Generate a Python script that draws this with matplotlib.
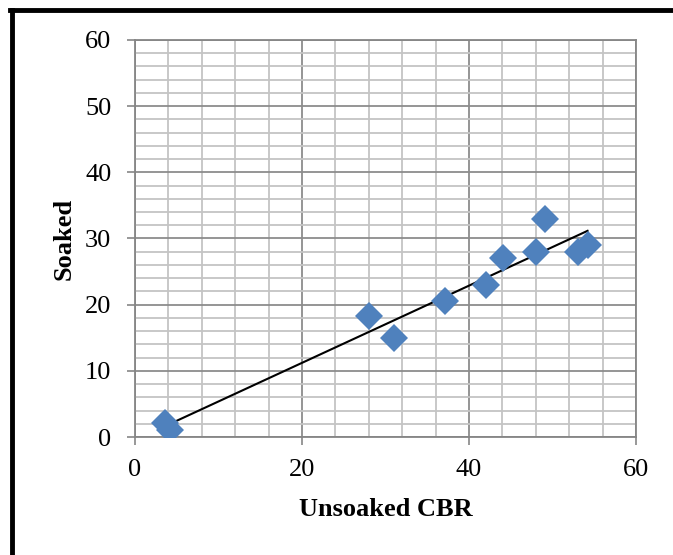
import numpy as np
import matplotlib.pyplot as plt
from matplotlib.lines import Line2D
from matplotlib.ticker import MultipleLocator

# CBR test results
unsoaked = [3.6, 4.2, 28.0, 31.0, 37.1, 42.0, 44.1, 48.0, 49.1, 53.1, 54.2]
soaked = [2.1, 1.1, 18.3, 15.0, 20.6, 22.9, 27.0, 28.0, 33.0, 28.0, 29.0]

plt.rcParams['font.family'] = ['Liberation Serif', 'DejaVu Serif']

fig = plt.figure(figsize=(6.73, 5.55), dpi=100)
ax = fig.add_axes([0.2006, 0.2126, 0.7444, 0.7154])

# linear trendline over the data range
coef = np.polyfit(unsoaked, soaked, 1)
xs = np.array([min(unsoaked), max(unsoaked)])
ax.plot(xs, np.polyval(coef, xs), color='black', lw=1.5, zorder=3)

ax.plot(unsoaked, soaked, 'D', color='#4F81BD', markersize=14,
        markeredgewidth=0, zorder=4)

ax.set_xlim(0, 60)
ax.set_ylim(0, 60)
ax.xaxis.set_major_locator(MultipleLocator(20))
ax.xaxis.set_minor_locator(MultipleLocator(4))
ax.yaxis.set_major_locator(MultipleLocator(10))
ax.yaxis.set_minor_locator(MultipleLocator(2))

ax.grid(which='minor', color='#C4C4C4', lw=1.3, zorder=0)
ax.grid(which='major', color='#8C8C8C', lw=1.3, zorder=1)
ax.set_axisbelow(True)

for sp in ax.spines.values():
    sp.set_color('#868686')
    sp.set_linewidth(1.3)

ax.tick_params(which='major', length=6, width=1.2, color='#868686',
               labelsize=19)
ax.tick_params(axis='x', pad=10)
ax.tick_params(axis='y', pad=11)
ax.tick_params(which='minor', length=0)

ax.set_xlabel('Unsoaked CBR', fontsize=19, fontweight='bold', labelpad=12)
ax.set_ylabel('Soaked', fontsize=19, fontweight='bold', labelpad=7)

# frame lines on the left and top edges
fig.add_artist(Line2D([0.0178, 0.0178], [0.0, 0.982], color='black', lw=3.5,
                      transform=fig.transFigure))
fig.add_artist(Line2D([0.0155, 1.0], [0.982, 0.982], color='black', lw=3.5,
                      transform=fig.transFigure))

fig.savefig('out.png', dpi=100)
